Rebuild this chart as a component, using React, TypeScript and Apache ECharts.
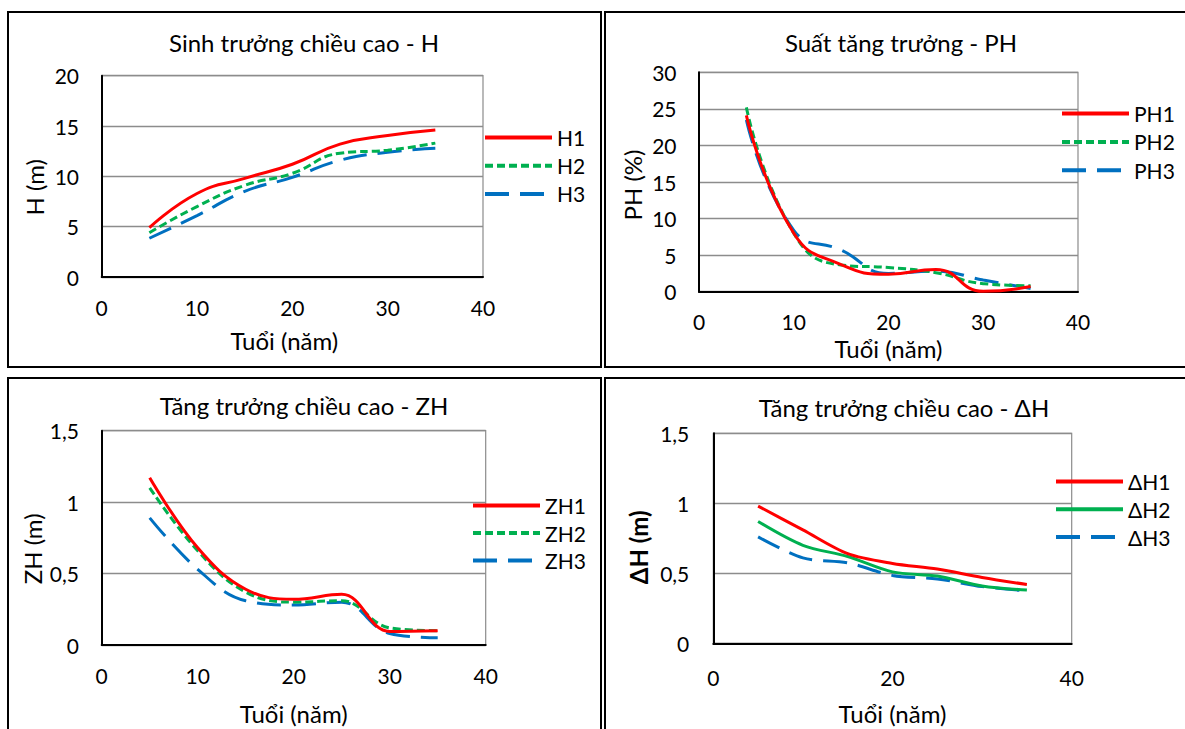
import React, { useEffect, useRef } from "react";
import * as echarts from "echarts";

// ---- data ----
const ages = [5, 10, 15, 20, 25, 30, 35];

const H1 = [4.9, 8.3, 9.8, 11.2, 13.2, 14.05, 14.6];
const H2 = [4.4, 7.0, 9.1, 10.3, 12.3, 12.6, 13.3];
const H3 = [3.85, 6.1, 8.5, 9.9, 11.6, 12.4, 12.8];

const PH1 = [24.1, 8.0, 3.7, 2.4, 3.05, 0.05, 0.7];
const PH2 = [25.2, 8.0, 3.65, 3.3, 2.6, 1.1, 0.8];
const PH3 = [23.5, 8.4, 5.7, 2.5, 2.8, 1.6, 0.45];

const ZH1 = [1.17, 0.68, 0.39, 0.32, 0.355, 0.095, 0.1];
const ZH2 = [1.1, 0.66, 0.37, 0.3, 0.31, 0.12, 0.1];
const ZH3 = [0.89, 0.53, 0.31, 0.28, 0.3, 0.08, 0.05];

const DH1 = [0.98, 0.81, 0.64, 0.57, 0.53, 0.47, 0.42];
const DH2 = [0.87, 0.7, 0.62, 0.51, 0.48, 0.41, 0.38];
const DH3 = [0.76, 0.61, 0.575, 0.485, 0.46, 0.405, 0.375];

const titles = [
  "Sinh trưởng chiều cao - H",
  "Suất tăng trưởng - PH",
  "Tăng trưởng chiều cao - ZH",
  "Tăng trưởng chiều cao - ΔH",
];
const yNames = ["H (m)", "PH (%)", "ZH (m)", "ΔH (m)"];
const xName = "Tuổi (năm)";
const xRange = [0, 40];
const xIntervals = [10, 10, 10, 20];
const yMax = [20, 30, 1.5, 1.5];
const yIntervals = [5, 5, 0.5, 0.5];
const seriesNames = [
  ["H1", "H2", "H3"],
  ["PH1", "PH2", "PH3"],
  ["ZH1", "ZH2", "ZH3"],
  ["ΔH1", "ΔH2", "ΔH3"],
];
const seriesData = [
  [H1, H2, H3],
  [PH1, PH2, PH3],
  [ZH1, ZH2, ZH3],
  [DH1, DH2, DH3],
];

const RED = "#FF0000";
const GREEN = "#00B050";
const BLUE = "#0070C0";
const FONT = "Lato, 'Open Sans', sans-serif";

// layout
const grids = [
  { left: 101.7, top: 75.7, width: 381.3, height: 201.3 },
  { left: 699, top: 72.3, width: 379, height: 219.4 },
  { left: 101.7, top: 430.7, width: 384, height: 214.3 },
  { left: 713.3, top: 433.3, width: 358.4, height: 210 },
];
const panels = [
  { x: 8, y: 12, w: 593, h: 355 },
  { x: 605, y: 12, w: 600, h: 355 },
  { x: 8, y: 378, w: 593, h: 370 },
  { x: 605, y: 378, w: 600, h: 370 },
];
const titlePos = [
  [304, 42],
  [901, 42],
  [304, 405],
  [904, 407],
];
const smoothing = [0.5, 0.5, 0.4, 0.3];
const legendPos = [
  { left: 483, top: 127, gap: 7.2 },
  { left: 1060, top: 103, gap: 7.4 },
  { left: 471, top: 495, gap: 6.5 },
  { left: 1054, top: 471, gap: 6.8 },
];
const xNameGap = [50, 43.3, 55, 57];
const xNamePad = [[0, 16, 0, 0], [0, 0, 0, 0], [0, 0, 0, 0], [0, 0, 0, 0]];
const yNameGap = [54.7, 53.5, 53.7, 62];
const yNamePad = [[0, 22, 0, 0], [0, 6, 0, 0], [0, 22, 0, 0], [0, 18, 0, 0]];
const xLabelMargin = [19, 19, 19, 23];
const yLabelMargin = [22.7, 22.5, 22.7, 24];

export default function App() {
  const ref = useRef<HTMLDivElement>(null);
  useEffect(() => {
    if (!ref.current) return;
    const chart = echarts.init(ref.current, undefined, { renderer: "svg" });

    const lineStyles = (p: number) => [
      { color: RED, width: 3, type: "solid" },
      p === 3
        ? { color: GREEN, width: 3, type: "solid" }
        : { color: GREEN, width: 3, type: [8, 4] },
      { color: BLUE, width: 3, type: [24, 11] },
    ];

    const series: any[] = [];
    seriesData.forEach((group, p) => {
      group.forEach((arr, k) => {
        series.push({
          type: "line",
          name: seriesNames[p][k],
          xAxisIndex: p,
          yAxisIndex: p,
          data: ages.map((a, i) => [a, arr[i]]),
          symbol: "none",
          smooth: smoothing[p],
          lineStyle: lineStyles(p)[k],
          itemStyle: { color: lineStyles(p)[k].color },
          z: 3 - k + 2,
        });
      });
    });

    const option: any = {
      animation: false,
      backgroundColor: "#ffffff",
      textStyle: { fontFamily: FONT, color: "#000" },
      grid: grids.map((g) => ({
        ...g,
        show: true,
        borderColor: "#8c8c8c",
        borderWidth: 1.2,
        backgroundColor: "transparent",
        containLabel: false,
      })),
      xAxis: grids.map((_, p) => ({
        type: "value",
        gridIndex: p,
        min: xRange[0],
        max: xRange[1],
        interval: xIntervals[p],
        name: xName,
        nameLocation: "middle",
        nameGap: xNameGap[p],
        nameTextStyle: {
          fontSize: 24,
          fontFamily: FONT,
          color: "#000",
          lineHeight: 26,
          padding: xNamePad[p],
        },
        axisLine: { show: true, lineStyle: { color: "#000", width: 2 } },
        axisTick: { show: false },
        splitLine: { show: false },
        axisLabel: {
          fontSize: 21,
          fontFamily: FONT,
          color: "#000",
          margin: xLabelMargin[p],
          lineHeight: 22,
        },
      })),
      yAxis: grids.map((_, p) => ({
        type: "value",
        gridIndex: p,
        min: 0,
        max: yMax[p],
        interval: yIntervals[p],
        name: yNames[p],
        nameLocation: "middle",
        nameGap: yNameGap[p],
        nameTextStyle: {
          fontSize: 24,
          fontFamily: FONT,
          color: "#000",
          lineHeight: 26,
          fontWeight: p === 3 ? "bold" : "normal",
          padding: yNamePad[p],
        },
        axisLine: { show: true, lineStyle: { color: "#000", width: 2 } },
        axisTick: { show: false },
        splitLine: { show: true, lineStyle: { color: "#8c8c8c", width: 1.3 } },
        axisLabel: {
          fontSize: 21,
          fontFamily: FONT,
          color: "#000",
          margin: yLabelMargin[p],
          formatter: (v: number) => String(v).replace(".", ","),
        },
      })),
      legend: legendPos.map((l, p) => ({
        data: seriesNames[p],
        orient: "vertical",
        left: l.left,
        top: l.top,
        itemWidth: 67,
        itemHeight: 14,
        itemGap: l.gap,
        padding: 0,
        selectedMode: false,
        itemStyle: { opacity: 0 },
        lineStyle: { width: 4 },
        textStyle: {
          fontSize: 21,
          fontFamily: FONT,
          color: "#000",
          lineHeight: 20,
        },
      })),
      graphic: [
        ...panels.map((r) => ({
          type: "rect",
          shape: { x: r.x, y: r.y, width: r.w, height: r.h },
          style: { fill: "none", stroke: "#000", lineWidth: 2 },
          silent: true,
          z: 0,
        })),
        ...titles.map((t, p) => ({
          type: "text",
          x: titlePos[p][0],
          y: titlePos[p][1],
          style: {
            text: t,
            fontSize: 24,
            fontFamily: FONT,
            fill: "#000",
            align: "center",
            verticalAlign: "middle",
          },
          silent: true,
        })),
      ],
      series,
    };
    chart.setOption(option);
    return () => chart.dispose();
  }, []);
  return (
    <div
      ref={ref}
      style={{ position: "fixed", left: 0, top: 0, width: 1185, height: 729 }}
    />
  );
}
